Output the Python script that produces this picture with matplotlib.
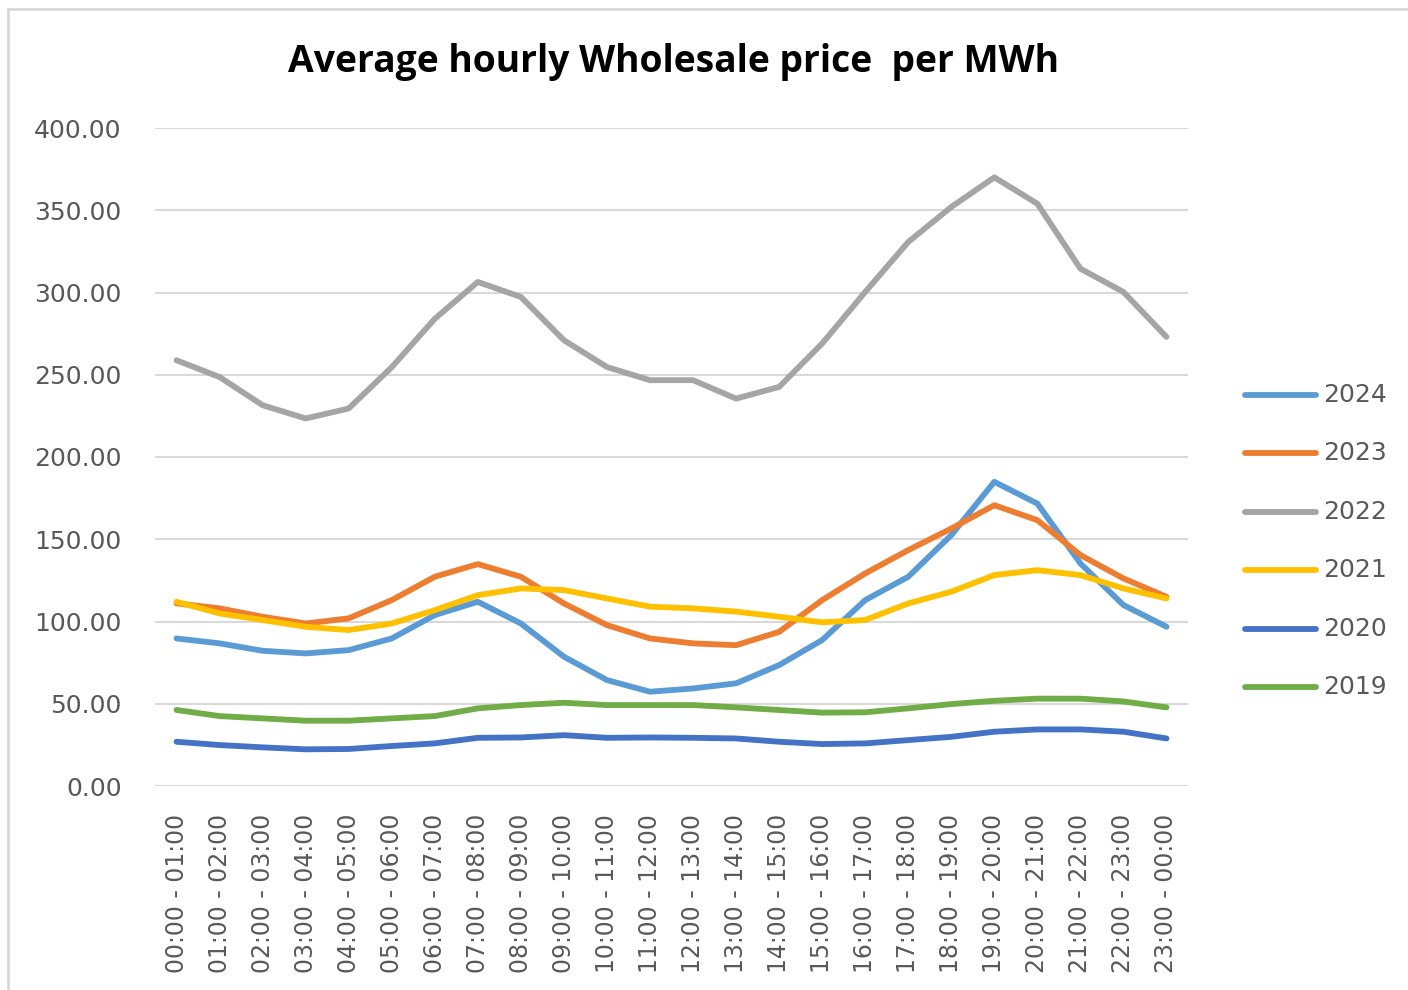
import numpy as np
import matplotlib
matplotlib.use('Agg')
import matplotlib.pyplot as plt
from matplotlib.lines import Line2D

# ---- data ----
hours = ['%02d:00 - %02d:00' % (h, (h + 1) % 24) for h in range(24)]

p2024 = [89.7, 86.7, 82.2, 80.6, 82.6, 89.7, 103.9, 112.0, 98.8, 78.6, 64.4, 57.3,
         59.3, 62.4, 73.5, 88.7, 113.0, 127.2, 152.5, 184.9, 171.7, 135.3, 110.0, 96.8]
p2023 = [111.0, 108.0, 102.9, 98.8, 101.9, 113.0, 127.2, 134.9, 127.2, 111.0, 97.8, 89.7,
         86.7, 85.6, 93.7, 113.0, 129.2, 143.4, 156.5, 170.7, 161.6, 140.4, 126.2, 115.0]
p2022 = [258.8, 248.6, 231.5, 223.4, 229.5, 254.6, 284.0, 306.4, 297.3, 271.0, 254.7, 246.7,
         246.7, 235.5, 242.6, 269.0, 300.3, 330.7, 352.0, 370.0, 354.0, 314.5, 300.3, 273.0]
p2021 = [112.0, 104.9, 100.9, 96.8, 94.8, 98.8, 106.9, 116.0, 120.1, 119.1, 114.0, 109.0,
         108.0, 106.0, 102.9, 99.5, 100.9, 111.0, 118.1, 128.2, 131.2, 128.2, 120.1, 114.0]
p2020 = [26.9, 24.9, 23.5, 22.3, 22.5, 24.3, 25.9, 29.3, 29.5, 30.9, 29.3, 29.5,
         29.3, 28.9, 26.9, 25.5, 25.9, 27.9, 29.9, 33.0, 34.4, 34.4, 33.0, 28.9]
p2019 = [46.2, 42.5, 41.1, 39.7, 39.7, 41.1, 42.5, 47.2, 49.2, 50.6, 49.2, 49.2,
         49.2, 47.8, 46.2, 44.6, 44.8, 47.2, 49.8, 51.8, 53.1, 53.1, 51.4, 47.8]

years = ['2024', '2023', '2022', '2021', '2020', '2019']
series = [p2024, p2023, p2022, p2021, p2020, p2019]
colors = ['#5B9BD5', '#ED7D31', '#A5A5A5', '#FFC000', '#4472C4', '#70AD47']

W, H = 1408, 990
fig = plt.figure(figsize=(W / 100, H / 100), dpi=100)
fig.patch.set_facecolor('white')

ax = fig.add_axes([155 / W, 1 - 786 / H, (1188 - 155) / W, (786 - 128) / H])

x = np.arange(len(hours))
for vals, c, lab in zip(series, colors, years):
    ax.plot(x, vals, color=c, lw=4.2, label=lab, solid_capstyle='round', solid_joinstyle='round', zorder=3)

ax.set_xlim(-0.5, len(hours) - 0.5)
ax.set_ylim(0, 400)
ax.set_yticks(np.arange(0, 401, 50))
ax.set_yticklabels(['%.2f' % v for v in np.arange(0, 401, 50)])
ax.set_xticks(x)
ax.set_xticklabels(hours, rotation=90)
ax.grid(axis='y', color='#D9D9D9', lw=1.5, zorder=0)
ax.tick_params(axis='both', length=0, labelcolor='#595959')
ax.tick_params(axis='y', labelsize=18, pad=24)
ax.tick_params(axis='x', labelsize=17, pad=20)
for s in ax.spines.values():
    s.set_visible(False)

# title
fig.text(674 / W, 1 - 62 / H, 'Average hourly Wholesale price  per MWh', ha='center', va='center',
         fontsize=26.8, fontweight='bold', family='Open Sans', color='black')

# legend on the right
leg_y = [395, 453, 512, 570, 629, 687]
for ly, c, lab in zip(leg_y, colors, years):
    fig.add_artist(Line2D([1245 / W, 1316 / W], [1 - ly / H, 1 - ly / H], color=c, lw=4.2,
                          solid_capstyle='round'))
    fig.text(1323 / W, 1 - ly / H, lab, ha='left', va='center', fontsize=18, color='#595959')

# chart-area border (top and left visible)
fig.add_artist(Line2D([8 / W, 1.0], [1 - 9 / H, 1 - 9 / H], color='#D9D9D9', lw=2))
fig.add_artist(Line2D([8 / W, 8 / W], [1 - 9 / H, 0], color='#D9D9D9', lw=2))

fig.savefig('out.png', dpi=100)
